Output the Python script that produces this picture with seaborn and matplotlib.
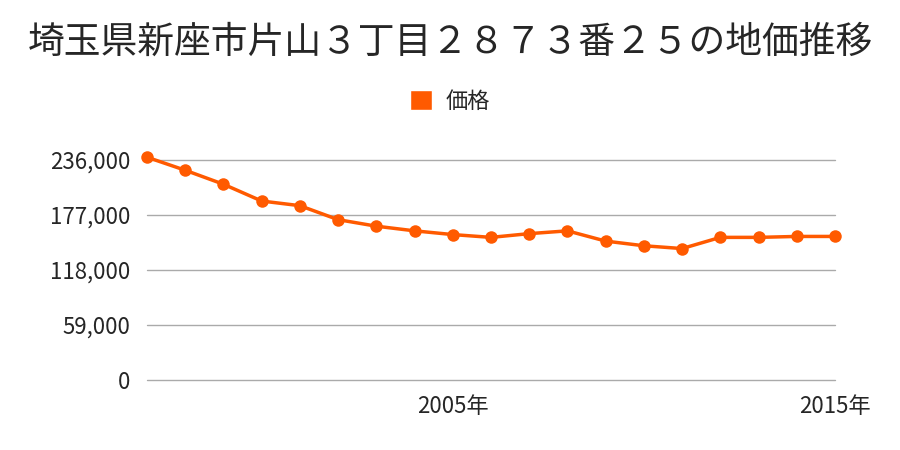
import matplotlib
matplotlib.use("Agg")
import matplotlib.pyplot as plt
import seaborn as sns
import pandas as pd
from matplotlib.patches import Patch

years = list(range(1997, 2016))
prices = [239000, 225000, 210000, 192000, 187000, 172000, 165000, 160000, 156000,
          153000, 157000, 160000, 149000, 144000, 141000, 153000, 153000, 154000, 154000]
yticks = [0, 59000, 118000, 177000, 236000]
xticks = [2005, 2015]
title = "埼玉県新座市片山３丁目２８７３番２５の地価推移"
series_name = "価格"

sns.set_theme(style="white")
plt.rcParams['font.family'] = ['Noto Sans CJK JP', 'DejaVu Sans']

color = "#FF5A00"
df = pd.DataFrame({"year": years, "price": prices})

fig = plt.figure(figsize=(9, 4.5), dpi=100)
ax = fig.add_axes([147/900, 1-380/450, (835-147)/900, 230/450])
sns.lineplot(data=df, x="year", y="price", ax=ax, color=color, linewidth=2.5,
             marker="o", markersize=9, markeredgewidth=0, markeredgecolor=color)
for ln in ax.lines:
    ln.set_clip_on(False)

ax.set_xlim(1997, 2015)
ax.set_ylim(0, 236000 * 230 / 220)
ax.set_yticks(yticks)
ax.set_yticklabels([f"{v:,}" for v in yticks], fontsize=16)
ax.set_xticks(xticks)
ax.set_xticklabels([f"{v}年" for v in xticks], fontsize=16)
ax.tick_params(axis="y", length=0, pad=12)
ax.tick_params(axis="x", length=0, pad=11)
ax.set_xlabel("")
ax.set_ylabel("")
for s in ax.spines.values():
    s.set_visible(False)
ax.yaxis.grid(True, color="#AAAAAA", linewidth=1)
for gl in ax.get_ygridlines():
    gl.set_clip_on(False)
ax.xaxis.grid(False)
ax.set_axisbelow(True)

fig.text(0.5, 1-42/450, title, ha="center", va="center", fontsize=26.5)
fig.legend(handles=[Patch(facecolor=color, label=series_name)], loc="center",
           bbox_to_anchor=(0.5, 1-101/450), frameon=False, fontsize=16,
           handlelength=1.0, handleheight=1.0, handletextpad=0.6)

fig.savefig("out.png", dpi=100)
